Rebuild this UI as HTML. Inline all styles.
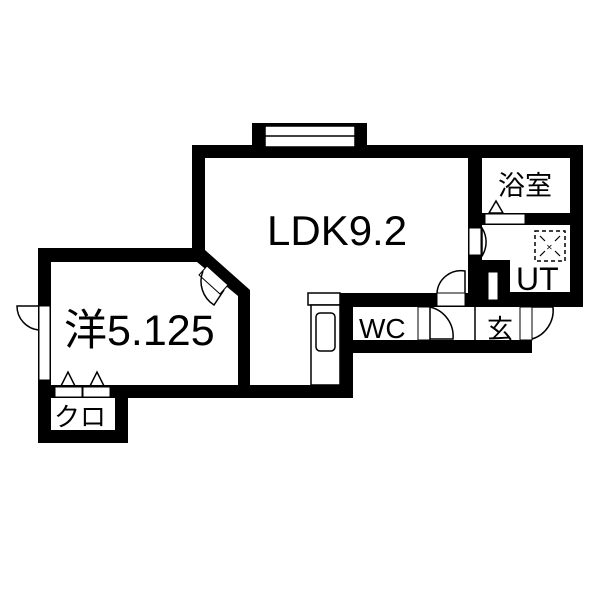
<!DOCTYPE html>
<html><head><meta charset="utf-8"><style>
html,body{margin:0;padding:0;background:#fff;}
svg{display:block;}
text{font-family:"Liberation Sans","Noto Sans CJK JP",sans-serif;fill:#000;}
</style></head><body>
<svg width="600" height="600" viewBox="0 0 600 600">
<rect width="600" height="600" fill="#fff"/>
<g fill="#000">
<rect x="192" y="145" width="391" height="13"/>
<rect x="192" y="145" width="13" height="115"/>
<rect x="252" y="123" width="115" height="35"/>
<rect x="570" y="145" width="13" height="162"/>
<rect x="468" y="145" width="14" height="162"/>
<rect x="482" y="213" width="90" height="12"/>
<rect x="482" y="260" width="28" height="47"/>
<rect x="482" y="292" width="100" height="15"/>
<rect x="38" y="248" width="167" height="14"/>
<rect x="38" y="248" width="13" height="195"/>
<polygon points="192,250 205,250 250,290 250,300 238,300 238,296 197,262"/>
<rect x="238" y="290" width="12" height="108"/>
<rect x="38" y="385" width="315" height="13"/>
<rect x="38" y="430" width="90" height="13"/>
<rect x="115" y="398" width="13" height="45"/>
<rect x="340" y="293" width="140" height="14"/>
<rect x="340" y="293" width="13" height="105"/>
<rect x="353" y="340" width="179" height="13"/>
</g>
<rect x="265" y="126" width="90" height="21" fill="#fff" stroke="#000" stroke-width="1.5"/>
<line x1="265" y1="136" x2="355" y2="136" stroke="#000" stroke-width="1.5"/>
<rect x="485" y="214" width="40" height="10" fill="#fff" stroke="#000" stroke-width="1"/>
<polygon points="489,213 496,201 503,213" fill="none" stroke="#000" stroke-width="1.5"/>
<rect x="469" y="228" width="12" height="27" fill="#fff" stroke="#000" stroke-width="1"/>
<path d="M482,228 A26,26 0 0 1 482,256 Z" fill="none" stroke="#000" stroke-width="1.5"/>
<rect x="535" y="231" width="30" height="30" fill="none" stroke="#000" stroke-width="1.5" stroke-dasharray="4,3"/>
<path d="M540,236 L545,241 M560,236 L555,241 M540,256 L545,251 M560,256 L555,251" stroke="#000" stroke-width="1.2"/>
<text x="546" y="250" font-size="8">✕</text>
<rect x="488" y="272" width="10" height="28" fill="#fff" stroke="#000" stroke-width="1"/>
<rect x="437" y="293" width="28" height="13" fill="#fff" stroke="#000" stroke-width="1"/>
<path d="M465,293 L465,271 A24,24 0 0 0 437,293" fill="none" stroke="#000" stroke-width="1.5"/>
<rect x="308" y="293" width="32" height="12" fill="#fff" stroke="#000" stroke-width="1.5"/>
<rect x="311" y="305" width="29" height="80" fill="#fff" stroke="#000" stroke-width="1.5"/>
<rect x="316" y="313" width="19" height="38" rx="4" fill="none" stroke="#000" stroke-width="1.5"/>
<rect x="418" y="307" width="12" height="33" fill="#fff" stroke="#000" stroke-width="1"/>
<path d="M430,307 L430,339 L453,339 A30,30 0 0 0 430,307" fill="none" stroke="#000" stroke-width="1.5"/>
<line x1="475" y1="307" x2="475" y2="340" stroke="#000" stroke-width="1.5"/>
<rect x="520" y="307" width="12" height="33" fill="#fff" stroke="#000" stroke-width="1"/>
<path d="M532,339 A30,30 0 0 0 553,307 L532,307" fill="none" stroke="#000" stroke-width="1.5"/>
<polygon points="207,266 228,285 220,294 199,275" fill="#fff" stroke="#000" stroke-width="1"/>
<path d="M203,271 A28,28 0 0 0 214,305 L224,290" fill="none" stroke="#000" stroke-width="1.5"/>
<rect x="39" y="306" width="11" height="74" fill="#fff" stroke="#000" stroke-width="1"/>
<path d="M39,306 L17,306 A24,24 0 0 0 39,330" fill="none" stroke="#000" stroke-width="1.5"/>
<rect x="55" y="387" width="27" height="10" fill="#fff" stroke="#000" stroke-width="1"/>
<rect x="83" y="387" width="27" height="10" fill="#fff" stroke="#000" stroke-width="1"/>
<polygon points="61,386 68,372 75,386" fill="none" stroke="#000" stroke-width="1.5"/>
<polygon points="90,386 97,372 104,386" fill="none" stroke="#000" stroke-width="1.5"/>
<text x="267" y="245" font-size="42">LDK9.2</text>
<text x="64" y="345" font-size="43">洋5.125</text>
<text x="498" y="195" font-size="27">浴室</text>
<text x="516" y="290" font-size="32">UT</text>
<text x="359" y="338" font-size="28">WC</text>
<text x="487" y="338" font-size="26">玄</text>
<text x="54" y="426" font-size="26">クロ</text>
</svg>
</body></html>
